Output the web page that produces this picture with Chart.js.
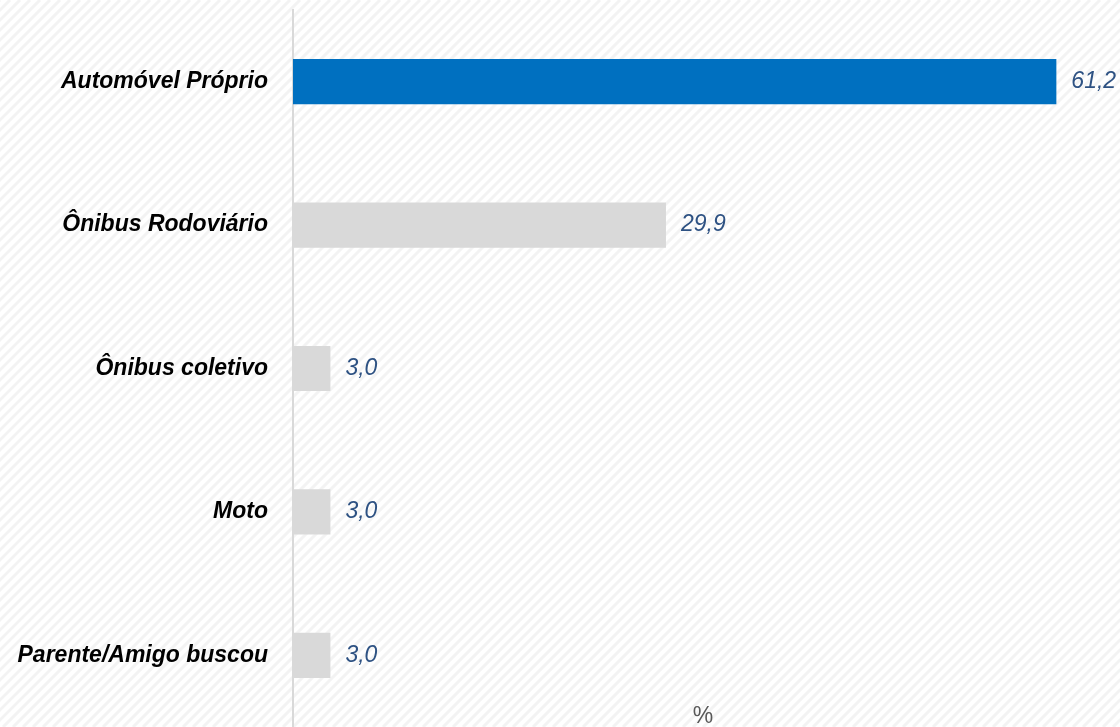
<!DOCTYPE html>
<html>
<head>
<meta charset="utf-8">
<script src="https://cdn.jsdelivr.net/npm/chart.js@4.4.0/dist/chart.umd.min.js"></script>
<style>
  html, body { margin: 0; padding: 0; background: #fff; }
  #wrap { width: 1120px; height: 727px; position: relative; }
</style>
</head>
<body>
<div id="wrap"><canvas id="myChart"></canvas></div>
<script>
// dados do gráfico
const categorias = ['Automóvel Próprio', 'Ônibus Rodoviário', 'Ônibus coletivo', 'Moto', 'Parente/Amigo buscou'];
const valores = [61.2, 29.9, 3.0, 3.0, 3.0];
const rotulos = ['61,2', '29,9', '3,0', '3,0', '3,0'];
const unidade = '%';

const coresBarras = ['#0070C0', '#D9D9D9', '#D9D9D9', '#D9D9D9', '#D9D9D9'];

// fundo com listras diagonais
const fundoListrado = {
    id: 'fundoListrado',
    beforeDraw(chart) {
        const ctx = chart.ctx;
        const w = chart.width, h = chart.height;
        ctx.save();
        ctx.fillStyle = '#ffffff';
        ctx.fillRect(0, 0, w, h);
        ctx.strokeStyle = '#F3F3F3';
        ctx.lineWidth = 3;
        const passo = 10;
        ctx.beginPath();
        for (let x = -h; x < w + h; x += passo) {
            ctx.moveTo(x, h);
            ctx.lineTo(x + h, 0);
        }
        ctx.stroke();
        ctx.restore();
    }
};

// rótulos de valor e unidade
const rotulosValor = {
    id: 'rotulosValor',
    afterDatasetsDraw(chart) {
        const ctx = chart.ctx;
        const meta = chart.getDatasetMeta(0);
        ctx.save();
        ctx.font = 'italic 23px "Liberation Sans", Arial, sans-serif';
        ctx.fillStyle = '#2E5283';
        ctx.textAlign = 'left';
        ctx.textBaseline = 'middle';
        meta.data.forEach((bar, i) => {
            ctx.fillText(rotulos[i], bar.x + 15, bar.y);
        });
        ctx.font = '23px "Liberation Sans", Arial, sans-serif';
        ctx.fillStyle = '#595959';
        ctx.textAlign = 'center';
        ctx.textBaseline = 'top';
        ctx.fillText(unidade, 703, 705);
        ctx.restore();
    }
};

const ctx = document.getElementById('myChart').getContext('2d');

const myChart = new Chart(ctx, {
    type: 'bar',
    data: {
        labels: categorias,
        datasets: [{
            data: valores,
            backgroundColor: coresBarras,
            borderWidth: 0,
            barPercentage: 0.63,
            categoryPercentage: 0.5,
        }],
    },
    options: {
        indexAxis: 'y',
        responsive: true,
        maintainAspectRatio: false,
        animation: false,
        layout: { padding: { top: 10, right: 10, bottom: 0, left: 0 } },
        plugins: {
            legend: { display: false },
            tooltip: { enabled: false },
        },
        scales: {
            x: {
                display: false,
                min: 0,
                max: 65.5,
            },
            y: {
                afterFit(scale) {
                    scale.width = 293;
                    scale.paddingTop = 0;
                    scale.paddingBottom = 0;
                },
                grid: { display: false, drawTicks: false },
                border: { display: true, color: '#D9D9D9', width: 2 },
                ticks: {
                    padding: 25,
                    color: '#000000',
                    font: { family: '"Liberation Sans", Arial, sans-serif', size: 23, style: 'italic', weight: 'bold' },
                },
            },
        },
    },
    plugins: [fundoListrado, rotulosValor],
});
</script>
</body>
</html>
